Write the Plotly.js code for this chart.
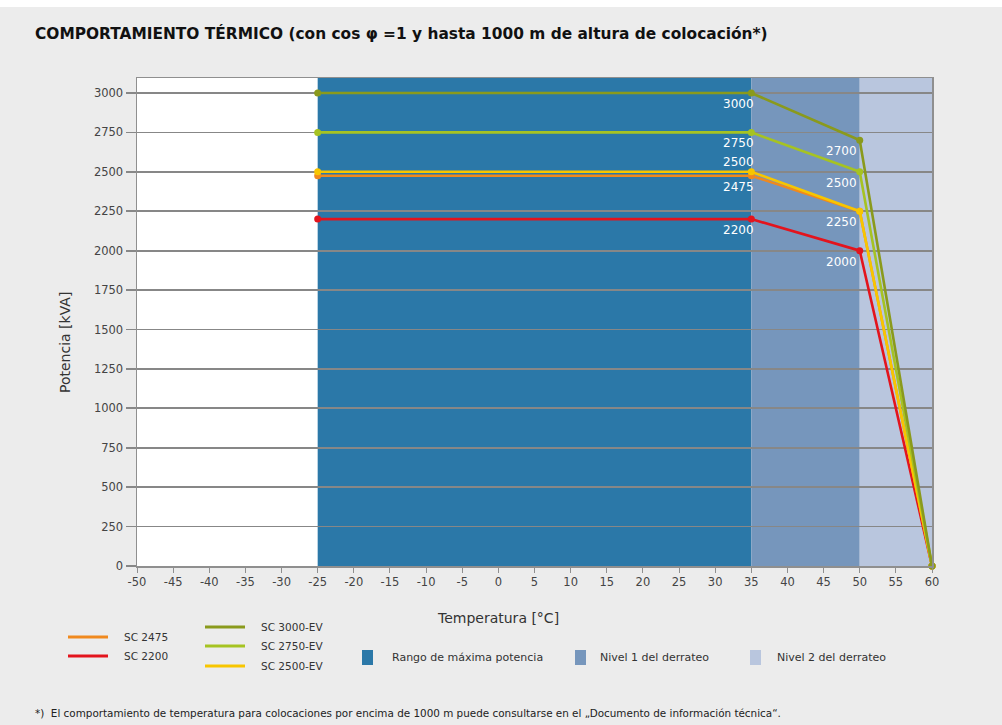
<!DOCTYPE html>
<html>
<head>
<meta charset="utf-8">
<script src="https://cdn.plot.ly/plotly-3.0.1.min.js"></script>
<style>html,body{margin:0;padding:0;background:#ececec;}#chart{width:1002px;height:725px;}</style>
</head>
<body>
<div id="chart"></div>
<script>
// Data
var temps = [-25, 35, 50, 60];
var seriesNames = ["SC 2200", "SC 2475", "SC 2500-EV", "SC 2750-EV", "SC 3000-EV"];
var sc2200 = [2200, 2200, 2000, 0];
var sc2475 = [2475, 2475, 2250, 0];
var sc2500ev = [2500, 2500, 2250, 0];
var sc2750ev = [2750, 2750, 2500, 0];
var sc3000ev = [3000, 3000, 2700, 0];
var seriesColors = ["#e3141d", "#f0891e", "#f7c600", "#a6c322", "#8a9a1c"];
var seriesValues = [sc2200, sc2475, sc2500ev, sc2750ev, sc3000ev];

var zones = [
  {name: "Rango de máxima potencia", from: -25, to: 35, color: "#2b78a8"},
  {name: "Nivel 1 del derrateo", from: 35, to: 50, color: "#7696bc"},
  {name: "Nivel 2 del derrateo", from: 50, to: 60, color: "#b9c6de"}
];
// point labels: [x, y, text, position]
var pointLabels = [
  [35, 3000, "3000", "below"],
  [35, 2750, "2750", "below"],
  [35, 2500, "2500", "above"],
  [35, 2475, "2475", "below"],
  [35, 2200, "2200", "below"],
  [50, 2700, "2700", "below"],
  [50, 2500, "2500", "below"],
  [50, 2250, "2250", "below"],
  [50, 2000, "2000", "below"]
];
var xTicks = [-50,-45,-40,-35,-30,-25,-20,-15,-10,-5,0,5,10,15,20,25,30,35,40,45,50,55,60];
var yTicks = [0,250,500,750,1000,1250,1500,1750,2000,2250,2500,2750,3000];

var FONT = "'DejaVu Sans', sans-serif";

var traces = seriesValues.map(function(v, i){
  return {
    x: temps, y: v, type: "scatter", mode: "lines+markers",
    name: seriesNames[i],
    line: {color: seriesColors[i], width: 2.6},
    marker: {color: seriesColors[i], size: 7},
    showlegend: false, cliponaxis: false
  };
});

var shapes = zones.map(function(z){
  return {type: "rect", xref: "x", yref: "paper", x0: z.from, x1: z.to, y0: 0, y1: 1,
    fillcolor: z.color, line: {width: 0}, layer: "below"};
});

var annotations = pointLabels.map(function(p){
  var below = p[3] === "below";
  return {x: p[0], y: p[1], xref: "x", yref: "y", text: p[2], showarrow: false,
    xanchor: "right", yanchor: below ? "top" : "bottom",
    xshift: p[0] === 35 ? 5 : -1, yshift: below ? -2 : 1,
    font: {family: FONT, size: 12, color: "#ffffff"}};
});

// Custom legend (pixel positions converted to paper coords)
var L = 137, R = 932, T = 78, B = 566;
function px(x){ return (x - L) / (R - L); }
function py(y){ return (B - y) / (B - T); }

var lineLegend = [
  {idx: 1, x: 68, y: 637},
  {idx: 0, x: 68, y: 656},
  {idx: 4, x: 205, y: 627},
  {idx: 3, x: 205, y: 646},
  {idx: 2, x: 205, y: 666}
];
lineLegend.forEach(function(l){
  shapes.push({type: "line", xref: "paper", yref: "paper", x0: px(l.x), x1: px(l.x + 40),
    y0: py(l.y), y1: py(l.y), line: {color: seriesColors[l.idx], width: 3}});
  annotations.push({xref: "paper", yref: "paper", x: px(l.x + 54), y: py(l.y), text: seriesNames[l.idx],
    showarrow: false, xanchor: "left", yanchor: "middle", font: {family: FONT, size: 10.5, color: "#333333"}});
});
var zoneLegend = [{x: 362, tx: 390}, {x: 575, tx: 598}, {x: 750, tx: 775}];
zoneLegend.forEach(function(zl, i){
  shapes.push({type: "rect", xref: "paper", yref: "paper", x0: px(zl.x), x1: px(zl.x + 11),
    y0: py(665), y1: py(650), fillcolor: zones[i].color, line: {width: 0}});
  annotations.push({xref: "paper", yref: "paper", x: px(zl.tx), y: py(657), text: zones[i].name,
    showarrow: false, xanchor: "left", yanchor: "middle", font: {family: FONT, size: 11, color: "#333333"}});
});

// top white strip
shapes.push({type: "rect", xref: "paper", yref: "paper", x0: px(0), x1: px(1002), y0: py(0), y1: py(7),
  fillcolor: "#ffffff", line: {width: 0}, layer: "below"});

// title, axis titles & footnote
annotations.push({xref: "paper", yref: "paper", x: px(33), y: py(33), xanchor: "left", yanchor: "middle",
  showarrow: false, text: "<b>COMPORTAMIENTO TÉRMICO (con cos φ =1 y hasta 1000 m de altura de colocación*)</b>",
  font: {family: FONT, size: 15.4, color: "#111111"}});
annotations.push({xref: "paper", yref: "paper", x: px(498), y: py(618), xanchor: "center", yanchor: "middle",
  showarrow: false, text: "Temperatura [°C]", font: {family: FONT, size: 14, color: "#333333"}});
annotations.push({xref: "paper", yref: "paper", x: px(65), y: py(343), xanchor: "center", yanchor: "middle",
  showarrow: false, textangle: -90, text: "Potencia [kVA]", font: {family: FONT, size: 14, color: "#333333"}});
annotations.push({xref: "paper", yref: "paper", x: px(33), y: py(713), xanchor: "left", yanchor: "middle",
  showarrow: false, text: "*)  El comportamiento de temperatura para colocaciones por encima de 1000 m puede consultarse en el „Documento de información técnica“.",
  font: {family: FONT, size: 10.4, color: "#222222"}});

var layout = {
  width: 1002, height: 725,
  paper_bgcolor: "#ececec", plot_bgcolor: "#ffffff",
  margin: {l: 137, r: 70, t: 78, b: 159},
  font: {family: FONT, color: "#444444"},
  showlegend: false,
  xaxis: {
    range: [-50, 60], tickvals: xTicks, ticktext: xTicks.map(String),
    showgrid: false, zeroline: false, showline: true, linecolor: "#8f8f8f", linewidth: 1.5,
    mirror: true, ticks: "outside", ticklen: 5, tickcolor: "#8f8f8f",
    tickfont: {family: FONT, size: 11.5, color: "#444444"}
  },
  yaxis: {
    range: [0, 3095], tickvals: yTicks, ticktext: yTicks.map(String),
    showgrid: true, gridcolor: "#878787", gridwidth: 1.8, zeroline: false,
    showline: true, linecolor: "#8f8f8f", linewidth: 1.5, mirror: true,
    ticks: "outside", ticklen: 10, tickcolor: "#878787", tickwidth: 1.8,
    tickfont: {family: FONT, size: 11.5, color: "#444444"}
  },
  shapes: shapes,
  annotations: annotations
};

Plotly.newPlot("chart", traces, layout, {displayModeBar: false, staticPlot: true});
</script>
</body>
</html>
